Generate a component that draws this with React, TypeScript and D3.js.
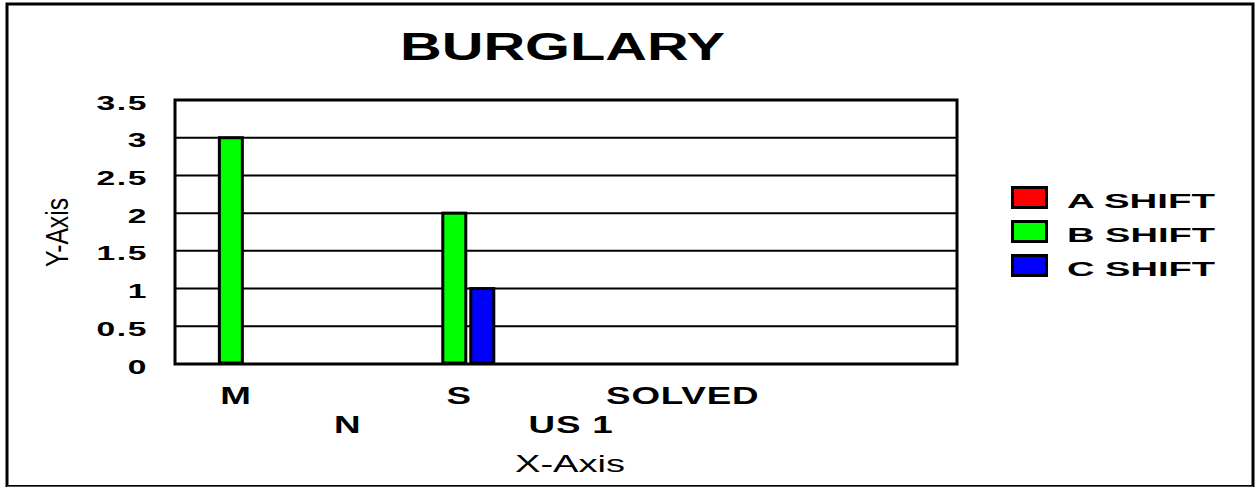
import React from "react";
import * as d3 from "d3";

const categories = ["M", "N", "S", "US 1", "SOLVED", "", ""];
const seriesNames = ["A SHIFT", "B SHIFT", "C SHIFT"];
const seriesColors = ["#ff0000", "#00ff00", "#0000ff"];
const aShift = [0, 0, 0, 0, 0, 0, 0];
const bShift = [3, 0, 2, 0, 0, 0, 0];
const cShift = [0, 0, 1, 0, 0, 0, 0];
const yTicks = [0, 0.5, 1, 1.5, 2, 2.5, 3, 3.5];
const title = "BURGLARY";
const xTitle = "X-Axis";
const yTitle = "Y-Axis";

const W = 1257;
const H = 487;
const FONT = "'Liberation Sans', Arial, Helvetica, sans-serif";

export default function App() {
  const series = [aShift, bShift, cShift];
  const plot = { left: 175, right: 957, top: 100, bottom: 364 };
  const x = d3.scaleBand<string>().domain(categories.map((c, i) => String(i))).range([plot.left, plot.right]).padding(0);
  const y = d3.scaleLinear().domain([0, 3.5]).range([plot.bottom, plot.top]);
  const barPitch = 28;
  const barW = 26;

  return (
    <svg width={W} height={H} style={{ position: "absolute", left: 0, top: 0, background: "#fff" }}>
      <rect x={0} y={0} width={W} height={H} fill="#fff" />
      {/* outer border */}
      <rect x={7} y={4} width={1246} height={482.5} fill="none" stroke="#000" strokeWidth={3} />
      <line x1={7} x2={1253} y1={486.5} y2={486.5} stroke="#555" strokeWidth={1} />

      {/* title */}
      <text x={400} y={60} fontFamily={FONT} fontWeight="bold" fontSize={38} textLength={325} lengthAdjust="spacingAndGlyphs">
        {title}
      </text>

      {/* gridlines */}
      {yTicks.map((t) => (
        <line key={"g" + t} x1={plot.left} x2={plot.right} y1={y(t)} y2={y(t)} stroke="#000" strokeWidth={2} />
      ))}

      {/* bars */}
      {series.map((vals, si) =>
        vals.map((v, ci) => {
          if (!v) return null;
          const cx = (x(String(ci)) as number) + x.bandwidth() / 2 + (si - 1) * barPitch;
          const x0 = cx - barW / 2;
          return (
            <rect
              key={si + "-" + ci}
              x={x0 + 1.5}
              y={y(v)}
              width={barW - 3}
              height={y(0) - y(v) - 1}
              fill={seriesColors[si]}
              stroke="#000"
              strokeWidth={3}
            />
          );
        })
      )}

      {/* plot frame */}
      <rect x={plot.left} y={plot.top} width={plot.right - plot.left} height={plot.bottom - plot.top} fill="none" stroke="#000" strokeWidth={3} />

      {/* y tick labels */}
      {yTicks.map((t) => (
        <text
          key={"yt" + t}
          transform={`translate(148, ${y(t) + 9.5}) scale(1.6,1)`}
          textAnchor="end"
          fontFamily={FONT}
          fontWeight="bold"
          fontSize={21}
          letterSpacing={1}
        >
          {String(t)}
        </text>
      ))}

      {/* x tick labels */}
      {categories.map((c, i) =>
        c ? (
          <text
            key={"xt" + i}
            transform={`translate(${(x(String(i)) as number) + x.bandwidth() / 2 + 5}, ${i % 2 === 0 ? 404 : 433}) scale(1.6,1)`}
            textAnchor="middle"
            fontFamily={FONT}
            fontWeight="bold"
            fontSize={23}
            letterSpacing={0.5}
          >
            {c}
          </text>
        ) : null
      )}

      {/* axis titles */}
      <text x={515} y={472} fontFamily={FONT} fontSize={24} textLength={110} lengthAdjust="spacingAndGlyphs">
        {xTitle}
      </text>
      <text
        transform="translate(68, 232.5) rotate(-90)"
        textAnchor="middle"
        fontFamily={FONT}
        fontSize={32}
        textLength={69}
        lengthAdjust="spacingAndGlyphs"
      >
        {yTitle}
      </text>

      {/* legend */}
      {seriesNames.map((n, i) => (
        <g key={"lg" + i}>
          <rect x={1012.5} y={187.5 + i * 34} width={34} height={20} fill={seriesColors[i]} stroke="#000" strokeWidth={3} />
          <text x={1067} y={208 + i * 34} fontFamily={FONT} fontWeight="bold" fontSize={21} textLength={148} lengthAdjust="spacingAndGlyphs">
            {n}
          </text>
        </g>
      ))}
    </svg>
  );
}
